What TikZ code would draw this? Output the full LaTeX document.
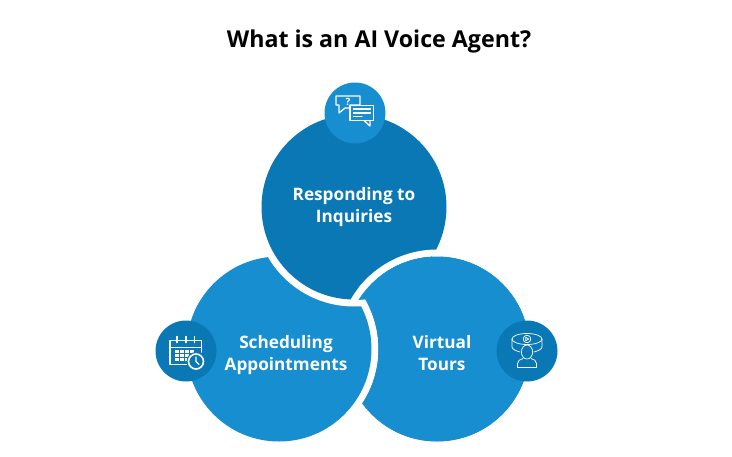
\documentclass[tikz,border=0pt]{standalone}
\usepackage{fontspec}
\setmainfont{Open Sans}
\definecolor{darkb}{HTML}{0B78B6}
\definecolor{lightb}{HTML}{178ED0}
\tikzset{
  badge/.style={circle,inner sep=0pt,minimum size=61pt},
  lab/.style={text=white,font=\fontsize{17.2}{21.5}\selectfont\bfseries,align=center},
  ico/.style={draw=white,line width=1.3pt,line join=round,line cap=round},
  icothin/.style={draw=white,line width=0.7pt,line join=round,line cap=round},
}
\begin{document}
\begin{tikzpicture}[x=1pt,y=-1pt]
\useasboundingbox (0,0) rectangle (732,456);
\fill[white] (0,0) rectangle (732,456);
\node[font=\fontsize{23.2}{28}\selectfont\bfseries,text=black] (title) at (379,41) {What is an AI Voice Agent?};
\def\rr{92.5}
% right, base
\fill[lightb] (437,349) circle (\rr);
% left with ring
\fill[white] (279,349) circle (\rr+7);
\fill[lightb] (279,349) circle (\rr);
% top with ring
\fill[white] (354,207) circle (\rr+7);
\fill[darkb] (354,207) circle (\rr);
% right over top, kept off the left disc and its ring
\begin{scope}[even odd rule]
\clip (200,100) rectangle (600,455) (279,349) circle (\rr+7);
\fill[white] (437,349) circle (\rr+7) (437,349) circle (\rr);
\fill[lightb] (437,349) circle (\rr);
\end{scope}
% the small sliver at the junction of the three discs
\begin{scope}[even odd rule]
\clip (354,207) circle (\rr+0.5);
\begin{scope}
\clip (351,275) rectangle (385,305);
\fill[white] (437,349) circle (\rr+7) (437,349) circle (\rr);
\fill[lightb] (437,349) circle (\rr);
\end{scope}
\end{scope}
% badges
\node[badge,fill=lightb] (b1) at (355,113) {};
\node[badge,fill=darkb] (b2) at (186,351) {};
\node[badge,fill=darkb] (b3) at (527,351) {};
% texts
\node[lab] (t1) at (354,207) {Responding to\\Inquiries};
\node[lab] (t2) at (286,355) {Scheduling\\Appointments};
\node[lab] (t3) at (442,353) {Virtual\\Tours};
% chat icon
\draw[ico] (350,105) -- (360,105) -- (360,96) -- (336,96) -- (336,105) -- (339,105) -- (339,113) -- (345,108) -- (350,108);
\node[text=white,font=\fontsize{10}{10}\selectfont\bfseries,inner sep=0pt] (q) at (348,102) {?};
\draw[ico,fill=lightb] (350,105.5) rectangle (373.5,120.5);
\draw[ico] (364,120.5) -- (370,126) -- (370,120.5);
\draw[ico] (353.5,109) -- (370.5,109) (353.5,113) -- (370.5,113) (353.5,116.5) -- (362,116.5);
% calendar icon
\draw[ico,line width=1.5pt] (170,348) -- (170,364.5) -- (188,364.5) (170,348) -- (170,340.5) -- (201.5,340.5) -- (201.5,352);
\draw[ico,line width=1.5pt] (170,347.5) -- (201.5,347.5);
\draw[ico,line width=1.5pt] (177,336.5) -- (177,342.5) (186,336.5) -- (186,342.5) (194.5,336.5) -- (194.5,342.5);
\foreach \x in {177,182,187,192}{\foreach \y in {351,355,359}{\fill[white] (\x-2.5,\y-1.5) rectangle (\x+1.5,\y+1.5);}}
\fill[darkb] (196,361.5) circle (9.5);
\draw[ico,line width=1.6pt] (196,361.5) circle (7.5);
\draw[ico] (196,357) -- (196,361.5) -- (199,364.5);
% tour icon
\draw[icothin] (527,339) ellipse (15 and 5.5);
\draw[icothin] (512,339) -- (512,347) .. controls (512,349) and (516,351) .. (520,352);
\draw[icothin] (542,339) -- (542,347) .. controls (542,349) and (538,351) .. (534,352);
\draw[icothin] (527,339) circle (3.8);
\draw[icothin] (525.8,337.3) -- (528.7,339) -- (525.8,340.7) -- cycle;
\draw[icothin,fill=darkb] (527,352) ellipse (5.6 and 7);
\draw[icothin] (517.5,367.5) -- (517.5,363.5) .. controls (517.5,360.5) and (520,359.5) .. (523,358.5) (536.5,367.5) -- (536.5,363.5) .. controls (536.5,360.5) and (534,359.5) .. (531,358.5) (517.5,367.5) -- (536.5,367.5);
\end{tikzpicture}
\end{document}
